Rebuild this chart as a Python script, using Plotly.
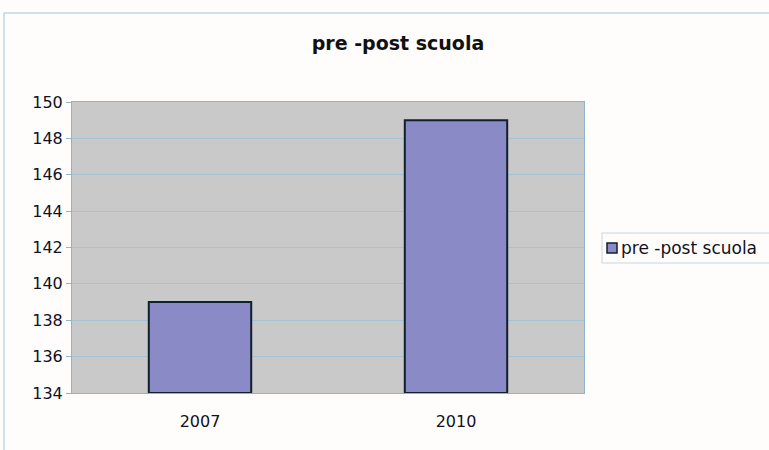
import plotly.graph_objects as go

years = ["2007", "2010"]
values = [139, 149]
series_name = "pre -post scuola"
y_ticks = [134, 136, 138, 140, 142, 144, 146, 148, 150]
y_floor = 134

BAR_COLOR = "#8a8ac6"
FRAME = "#c4d6e2"

# plot area in page pixels: left 72, right 584, top 102, bottom 393
L, R, T, B = 72, 584, 102, 393


def px(x):
    return (x - L) / (R - L)


def py(y):
    return (B - y) / (B - T)


fig = go.Figure()
fig.add_trace(
    go.Bar(
        x=years,
        y=[v - y_floor for v in values],
        base=y_floor,
        name=series_name,
        marker=dict(color=BAR_COLOR, line=dict(color="#10202e", width=2)),
        hovertemplate="%{x}: %{customdata}<extra></extra>",
        customdata=values,
        showlegend=False,
    )
)

# outer chart frame
fig.add_shape(
    type="rect", xref="paper", yref="paper",
    x0=px(4), x1=px(790), y0=py(470), y1=py(13),
    line=dict(color=FRAME, width=1.5), layer="below",
)

# legend drawn by hand (box, swatch, label)
fig.add_shape(
    type="rect", xref="paper", yref="paper",
    x0=px(602), x1=px(790), y0=py(263), y1=py(233),
    line=dict(color=FRAME, width=1),
)
fig.add_shape(
    type="rect", xref="paper", yref="paper",
    x0=px(607), x1=px(617), y0=py(253), y1=py(243),
    fillcolor=BAR_COLOR, line=dict(color="#10202e", width=1.5),
)
fig.add_annotation(
    text=series_name, xref="paper", yref="paper",
    x=px(619), y=py(248), xanchor="left", yanchor="middle",
    showarrow=False, font=dict(size=17, color="#111122"),
)

fig.update_layout(
    width=769,
    height=450,
    margin=dict(l=L, r=769 - R, t=T, b=450 - B),
    paper_bgcolor="#fffdfc",
    plot_bgcolor="#c9c9c9",
    bargap=0.6,
    showlegend=False,
    font=dict(family="DejaVu Sans", size=16, color="#111122"),
    title=dict(
        text="<b>pre -post scuola</b>",
        x=398 / 769,
        xanchor="center",
        xref="container",
        y=(450 - 43) / 450,
        yanchor="middle",
        font=dict(size=19, color="#111111"),
    ),
)
fig.update_yaxes(
    range=[y_floor, 150],
    tickvals=y_ticks,
    showgrid=True,
    gridcolor="#a6c4d6",
    gridwidth=1,
    showline=True,
    linecolor="#8fb4cc",
    linewidth=1,
    ticks="outside",
    ticklen=5,
    tickcolor="#8fb4cc",
    zeroline=False,
    mirror=True,
)
fig.update_xaxes(
    showline=True,
    linecolor="#8fb4cc",
    linewidth=1,
    ticks="",
    mirror=True,
    ticklabelstandoff=14,
    tickfont=dict(size=16),
)
fig.write_html(
    "out.html",
    config={"displayModeBar": False},
    post_script="document.body.style.margin='0';",
)
